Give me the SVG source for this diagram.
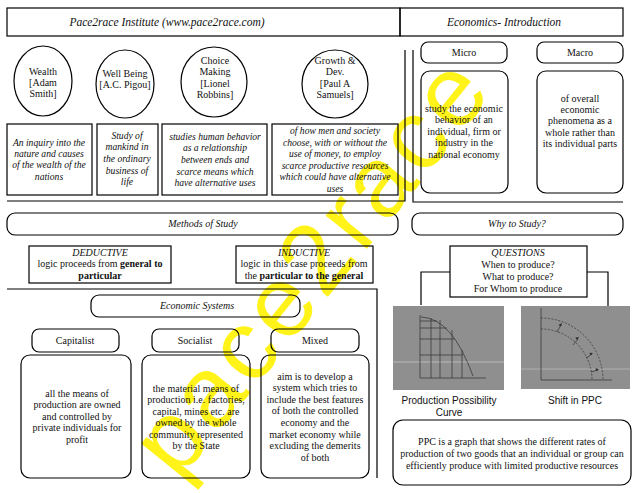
<svg xmlns="http://www.w3.org/2000/svg" width="638" height="493" viewBox="0 0 638 493">
<style>
.b{fill:none;stroke:#000;stroke-width:1.2}
.t{font-family:"Liberation Serif",serif;font-size:10px;text-anchor:middle;fill:#111}
.i{font-style:italic}
.d{font-size:9.6px}
.s{font-family:"Liberation Sans",Arial,sans-serif;font-size:10px;text-anchor:middle;fill:#111}
.g{fill:#8f8f8f}
.pl{fill:none;stroke:#3a3a3a;stroke-width:0.8}
.wm{font-family:"Liberation Sans",Arial,sans-serif;font-size:100px;fill:#fff200;fill-opacity:0.9}
</style>
<rect width="638" height="493" fill="#fff"/>
<text id="watermark" class="wm" x="178" y="482" textLength="500" lengthAdjust="spacing" transform="rotate(-51 178 482)">pace2race</text>

<g id="connectors" class="b">
<path d="M405,50 V201 H7"/>
<path d="M413,50 V202 H623"/>
<path d="M7,289 H377 V478"/>
<path d="M421,305 V272 H450"/>
<path d="M587,272 H608 V306"/>
</g>

<g id="title-left"><rect class="b" x="7" y="8" width="393" height="28"/><text class="t i" style="font-size:11.5px" x="167" y="26">Pace2race Institute (www.pace2race.com)</text></g>
<g id="title-right"><rect class="b" x="400" y="8" width="223" height="28"/><text class="t i" style="font-size:11.5px" x="504" y="26">Economics- Introduction</text></g>

<g id="wealth"><ellipse class="b" cx="43" cy="81" rx="29" ry="35"/><text class="t" x="43" y="75">Wealth</text><text class="t" x="43" y="86">[Adam</text><text class="t" x="43" y="97">Smith]</text></g>
<g id="wellbeing"><ellipse class="b" cx="125" cy="84" rx="29" ry="34"/><text class="t" x="125" y="77">Well Being</text><text class="t" x="125" y="88">[A.C. Pigou]</text></g>
<g id="choice"><ellipse class="b" cx="214" cy="82" rx="33" ry="35"/><text class="t" x="215" y="64">Choice</text><text class="t" x="215" y="75">Making</text><text class="t" x="215" y="87">[Lionel</text><text class="t" x="215" y="98">Robbins]</text></g>
<g id="growth"><ellipse class="b" cx="335" cy="84" rx="33" ry="34"/><text class="t" x="335" y="64">Growth &amp;</text><text class="t" x="335" y="75">Dev.</text><text class="t" x="335" y="87">[Paul A</text><text class="t" x="335" y="98">Samuels]</text></g>

<g id="def-wealth"><rect class="b" x="7" y="124" width="85" height="71"/>
<text class="t i d" x="49" y="146">An inquiry into the</text><text class="t i d" x="49" y="157">nature and causes</text><text class="t i d" x="49" y="168">of the wealth of the</text><text class="t i d" x="49" y="180">nations</text></g>
<g id="def-wellbeing"><rect class="b" x="97" y="124" width="61" height="71"/>
<text class="t i d" x="127" y="139">Study of</text><text class="t i d" x="127" y="150">mankind in</text><text class="t i d" x="127" y="162">the ordinary</text><text class="t i d" x="127" y="174">business of</text><text class="t i d" x="127" y="185">life</text></g>
<g id="def-choice"><rect class="b" x="162" y="124" width="105" height="71"/>
<text class="t i d" x="215" y="140">studies human behavior</text><text class="t i d" x="215" y="151">as a relationship</text><text class="t i d" x="215" y="163">between ends and</text><text class="t i d" x="215" y="175">scarce means which</text><text class="t i d" x="215" y="186">have alternative uses</text></g>
<g id="def-growth"><rect class="b" x="272" y="124" width="126" height="71"/>
<text class="t i d" x="335" y="134">of how men and society</text><text class="t i d" x="335" y="146">choose, with or without the</text><text class="t i d" x="335" y="157">use of money, to employ</text><text class="t i d" x="335" y="169">scarce productive resources</text><text class="t i d" x="335" y="180">which could have alternative</text><text class="t i d" x="335" y="192">uses</text></g>

<g id="micro"><rect class="b" x="421" y="42" width="86" height="21" rx="7"/><text class="t" x="464" y="56">Micro</text></g>
<g id="macro"><rect class="b" x="537" y="42" width="86" height="21" rx="7"/><text class="t" x="580" y="56">Macro</text></g>
<g id="micro-def"><rect class="b" x="421" y="71" width="87" height="122" rx="9"/>
<text class="t" x="464" y="112">study the economic</text><text class="t" x="464" y="123">behavior of an</text><text class="t" x="464" y="135">individual, firm or</text><text class="t" x="464" y="146">industry in the</text><text class="t" x="464" y="158">national economy</text></g>
<g id="macro-def"><rect class="b" x="537" y="71" width="86" height="122" rx="9"/>
<text class="t" x="580" y="102">of overall</text><text class="t" x="580" y="113">economic</text><text class="t" x="580" y="124">phenomena as a</text><text class="t" x="580" y="136">whole rather than</text><text class="t" x="580" y="147">its individual parts</text></g>

<g id="methods"><rect class="b" x="7" y="213" width="391" height="22" rx="8"/><text class="t i" x="203" y="227">Methods of Study</text></g>
<g id="why"><rect class="b" x="412" y="213" width="211" height="22" rx="8"/><text class="t i" x="517" y="227">Why to Study?</text></g>

<g id="deductive"><rect class="b" x="29" y="246" width="142" height="37"/>
<text class="t i" x="100" y="256">DEDUCTIVE</text><text class="t" x="100" y="267">logic proceeds from <tspan font-weight="bold">general to</tspan></text><text class="t" font-weight="bold" x="100" y="279">particular</text></g>
<g id="inductive"><rect class="b" x="236" y="246" width="137" height="37"/>
<text class="t i" x="304" y="256">INDUCTIVE</text><text class="t" x="304" y="267">logic in this case proceeds from</text><text class="t" x="304" y="279">the <tspan font-weight="bold">particular to the general</tspan></text></g>

<g id="questions"><rect class="b" x="450" y="246" width="137" height="51"/>
<text class="t i" x="518" y="256">QUESTIONS</text><text class="t" x="518" y="268">When to produce?</text><text class="t" x="518" y="280">What to produce?</text><text class="t" x="518" y="292">For Whom to produce</text></g>

<g id="econ-systems"><rect class="b" x="91" y="295" width="209" height="22" rx="8"/><text class="t i" x="197" y="309">Economic Systems</text></g>
<g id="capitalist"><rect class="b" x="32" y="329" width="87" height="23" rx="7"/><text class="t" x="75" y="344">Capitalist</text></g>
<g id="socialist"><rect class="b" x="152" y="329" width="87" height="23" rx="7"/><text class="t" x="195" y="344">Socialist</text></g>
<g id="mixed"><rect class="b" x="271" y="329" width="88" height="23" rx="7"/><text class="t" x="315" y="344">Mixed</text></g>
<g id="capitalist-def"><rect class="b" x="21" y="355" width="110" height="123" rx="9"/>
<text class="t" x="77" y="397">all the means of</text><text class="t" x="77" y="408">production are owned</text><text class="t" x="77" y="420">and controlled by</text><text class="t" x="77" y="431">private individuals for</text><text class="t" x="77" y="443">profit</text></g>
<g id="socialist-def"><rect class="b" x="142" y="355" width="108" height="123" rx="9"/>
<text class="t" x="196" y="392">the material means of</text><text class="t" x="196" y="403">production i.e. factories,</text><text class="t" x="196" y="415">capital, mines etc. are</text><text class="t" x="196" y="426">owned by the whole</text><text class="t" x="196" y="438">community represented</text><text class="t" x="196" y="449">by the State</text></g>
<g id="mixed-def"><rect class="b" x="261" y="355" width="108" height="123" rx="9"/>
<text class="t" x="315" y="380">aim is to develop a</text><text class="t" x="315" y="391">system which tries to</text><text class="t" x="315" y="403">include the best features</text><text class="t" x="315" y="414">of both the controlled</text><text class="t" x="315" y="426">economy and the</text><text class="t" x="315" y="438">market economy while</text><text class="t" x="315" y="449">excluding the demerits</text><text class="t" x="315" y="461">of both</text></g>

<g id="ppc-chart">
<rect class="g" x="393" y="306" width="111" height="84"/>
<path d="M393,362 H504" stroke="#c4c4c4" stroke-width="0.8"/>
<path class="pl" d="M420,315 V378 H486"/>
<path class="pl" d="M421,317 Q452,318 473,376"/>
<path class="pl" d="M420,321 H437 M420,328 H447 M420,339 H455 M420,355 H463 M431,378 V318 M440,378 V320 M452,378 V330 M462,378 V350"/>
<text class="s" x="449" y="404">Production Possibility</text><text class="s" x="449" y="416">Curve</text>
</g>
<g id="ppc-shift">
<rect class="g" x="521" y="306" width="109" height="83"/>
<path d="M521,369 H630" stroke="#b8b8b8" stroke-width="0.8"/>
<path class="pl" d="M541,308 V380 H612"/>
<path class="pl" stroke-dasharray="2,1.5" d="M541,318 A62,62 0 0 1 603,380"/>
<path class="pl" stroke-dasharray="2,1.5" d="M541,329 A51,51 0 0 1 592,380"/>
<path class="pl" d="M557,332 L561,325 M573,345 L578,339 M586,358 L592,354 M591,372 L598,370"/>
<path fill="#2a2a2a" d="M562,323 l-3.5,2 l2.5,1.5z M579,337 l-3.8,0.8 l2,2.2z M593,353 l-3.7,-0.3 l1.5,2.6z M599,369.5 l-3.4,-1.4 l0.6,3z"/>
<text class="s" x="575" y="404">Shift in PPC</text>
</g>
<g id="ppc-def"><rect class="b" x="393" y="420" width="238" height="65" rx="10"/>
<text class="t" x="512" y="445">PPC is a graph that shows the different rates of</text><text class="t" x="512" y="457">production of two goods that an individual or group can</text><text class="t" x="512" y="469">efficiently produce with limited productive resources</text></g>
</svg>
